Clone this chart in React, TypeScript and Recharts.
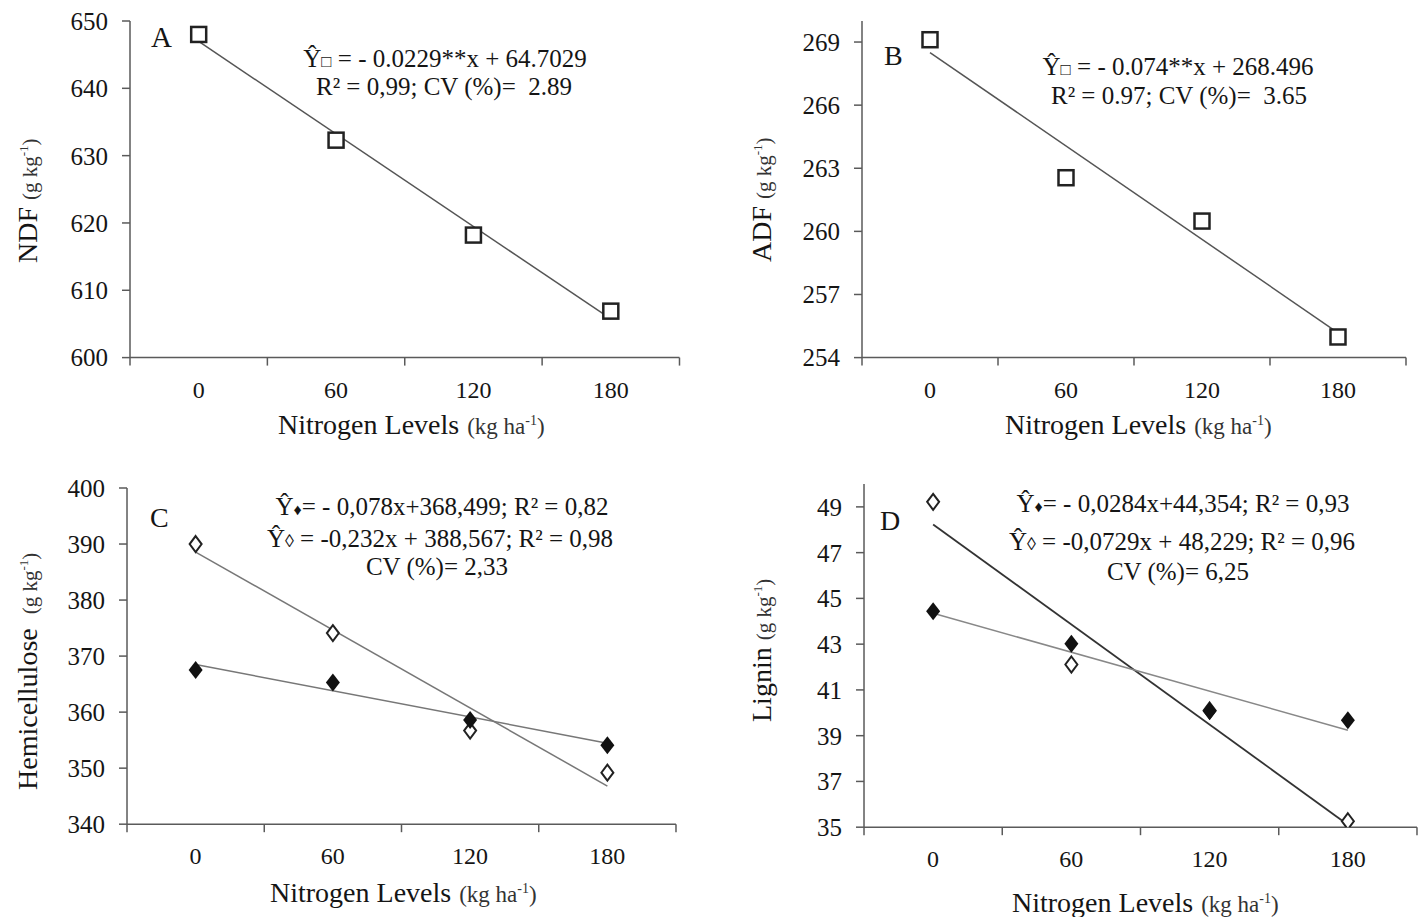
import React from 'react';
import { ScatterChart, Scatter, XAxis, YAxis } from 'recharts';

// ---------- data ----------
const nitrogenLevels = [0, 60, 120, 180];
const bandEdges = [-30, 30, 90, 150, 210];
const trendX = [0, 180];

const ndfValues = [648.0, 632.3, 618.2, 606.9];
const ndfTrend = [646.96, 605.74];
const ndfTicks = [600, 610, 620, 630, 640, 650];

const adfValues = [269.11, 262.55, 260.49, 254.98];
const adfTrend = [268.5, 255.18];
const adfTicks = [254, 257, 260, 263, 266, 269];

const hemiFilled = [367.5, 365.3, 358.6, 354.1];
const hemiOpen = [390.0, 374.1, 356.7, 349.2];
const hemiFilledTrend = [368.5, 354.46];
const hemiOpenTrend = [388.57, 346.81];
const hemiTicks = [340, 350, 360, 370, 380, 390, 400];

const ligninFilled = [44.44, 43.02, 40.08, 39.67];
const ligninOpen = [49.22, 42.11, 40.1, 35.26];
const ligninFilledTrend = [44.35, 39.24];
const ligninOpenTrend = [48.23, 35.11];
const ligninTicks = [35, 37, 39, 41, 43, 45, 47, 49];

// ---------- helpers ----------
const SERIF = '"Liberation Serif", "Times New Roman", serif';
const AXIS = '#5a5a5a';
const TXT = '#151515';

const pts = (ys: number[]) => nitrogenLevels.map((x, i) => ({ x, y: ys[i] }));
const trend = (ys: number[]) => trendX.map((x, i) => ({ x, y: ys[i] }));
const xTicks = [...bandEdges, ...nitrogenLevels].sort((a, b) => a - b);

const XTick = (props: any) => {
  const { x, y, payload } = props;
  const v = payload.value;
  if (nitrogenLevels.includes(v)) {
    return (
      <text x={x} y={y + 40} textAnchor="middle" fontFamily={SERIF} fontSize={24} fill={TXT}>
        {v}
      </text>
    );
  }
  return <line x1={x} x2={x} y1={y} y2={y + 8} stroke={AXIS} strokeWidth={1.5} />;
};

const Square = (p: any) => (
  <rect x={p.cx - 7.5} y={p.cy - 7.5} width={15} height={15} fill="#fff" stroke="#222" strokeWidth={2.5} />
);
const FilledDiamond = (p: any) => (
  <polygon
    points={`${p.cx},${p.cy - 9} ${p.cx + 7},${p.cy} ${p.cx},${p.cy + 9} ${p.cx - 7},${p.cy}`}
    fill="#111"
  />
);
const OpenDiamond = (p: any) => (
  <polygon
    points={`${p.cx},${p.cy - 8} ${p.cx + 6},${p.cy} ${p.cx},${p.cy + 8} ${p.cx - 6},${p.cy}`}
    fill="#fff"
    stroke="#222"
    strokeWidth={2}
  />
);
const NoShape = () => <g />;

type Plot = { x: number; y: number; w: number; h: number };

function Panel({ plot, domain, ticks, children }: { plot: Plot; domain: number[]; ticks: number[]; children: any }) {
  const ML = 80, MR = 12, MT = 12, MB = 50;
  const W = plot.w + ML + MR;
  const H = plot.h + MT + MB;
  return (
    <div style={{ position: 'absolute', left: plot.x - ML, top: plot.y - MT, width: W, height: H }}>
      <ScatterChart width={W} height={H} margin={{ top: MT, right: MR, bottom: 0, left: 0 }}>
        <XAxis
          type="number"
          dataKey="x"
          domain={[-30, 210]}
          ticks={xTicks}
          interval={0}
          tickLine={false}
          tickSize={0}
          tickMargin={0}
          height={MB}
          axisLine={{ stroke: AXIS, strokeWidth: 1.5 }}
          tick={<XTick />}
          allowDataOverflow
        />
        <YAxis
          type="number"
          dataKey="y"
          domain={domain}
          ticks={ticks}
          interval={0}
          width={ML}
          tickSize={8}
          tickMargin={14}
          tickLine={{ stroke: AXIS, strokeWidth: 1.5 }}
          axisLine={{ stroke: AXIS, strokeWidth: 1.5 }}
          tick={{ fontFamily: SERIF, fontSize: 25, fill: TXT }}
          allowDataOverflow
        />
        {children}
      </ScatterChart>
    </div>
  );
}

const YTitle = ({ x, y, main }: { x: number; y: number; main: string }) => (
  <text transform={`translate(${x},${y}) rotate(-90)`} fontFamily={SERIF} fill={TXT}>
    <tspan fontSize={28}>{main}</tspan>
    <tspan fontSize={21} dx={7} fill="#333">(g kg</tspan>
    <tspan fontSize={13} dy={-9} fill="#333">-1</tspan>
    <tspan fontSize={21} dy={9} fill="#333">)</tspan>
  </text>
);

const XTitle = ({ x, y }: { x: number; y: number }) => (
  <text x={x} y={y} fontFamily={SERIF} fill={TXT}>
    <tspan fontSize={28}>Nitrogen Levels</tspan>
    <tspan fontSize={23} dx={8} fill="#333">(kg ha</tspan>
    <tspan fontSize={14} dy={-9} fill="#333">-1</tspan>
    <tspan fontSize={23} dy={9} fill="#333">)</tspan>
  </text>
);

const Eq = ({ x, y, children }: { x: number; y: number; children: any }) => (
  <text x={x} y={y} textAnchor="middle" fontFamily={SERIF} fontSize={25} fill={TXT}>
    {children}
  </text>
);

const NB = '\u00a0';

export default function App() {
  return (
    <div style={{ position: 'absolute', left: 0, top: 0, width: 1427, height: 917, background: '#fff', overflow: 'hidden' }}>
      {/* A */}
      <Panel plot={{ x: 129.5, y: 20.7, w: 549.5, h: 336.6 }} domain={[600, 650]} ticks={ndfTicks}>
        <Scatter data={trend(ndfTrend)} line={{ stroke: '#555', strokeWidth: 1.5 }} shape={NoShape} isAnimationActive={false} />
        <Scatter data={pts(ndfValues)} shape={Square} isAnimationActive={false} />
      </Panel>
      {/* B */}
      <Panel plot={{ x: 862, y: 20.7, w: 544, h: 336.6 }} domain={[254, 270]} ticks={adfTicks}>
        <Scatter data={trend(adfTrend)} line={{ stroke: '#555', strokeWidth: 1.5 }} shape={NoShape} isAnimationActive={false} />
        <Scatter data={pts(adfValues)} shape={Square} isAnimationActive={false} />
      </Panel>
      {/* C */}
      <Panel plot={{ x: 126.5, y: 488.3, w: 549, h: 336.2 }} domain={[340, 400]} ticks={hemiTicks}>
        <Scatter data={trend(hemiOpenTrend)} line={{ stroke: '#777', strokeWidth: 1.5 }} shape={NoShape} isAnimationActive={false} />
        <Scatter data={trend(hemiFilledTrend)} line={{ stroke: '#777', strokeWidth: 1.5 }} shape={NoShape} isAnimationActive={false} />
        <Scatter data={pts(hemiOpen)} shape={OpenDiamond} isAnimationActive={false} />
        <Scatter data={pts(hemiFilled)} shape={FilledDiamond} isAnimationActive={false} />
      </Panel>
      {/* D */}
      <Panel plot={{ x: 864, y: 483.8, w: 553, h: 343.2 }} domain={[35, 50]} ticks={ligninTicks}>
        <Scatter data={trend(ligninOpenTrend)} line={{ stroke: '#333', strokeWidth: 1.8 }} shape={NoShape} isAnimationActive={false} />
        <Scatter data={trend(ligninFilledTrend)} line={{ stroke: '#888', strokeWidth: 1.5 }} shape={NoShape} isAnimationActive={false} />
        <Scatter data={pts(ligninOpen)} shape={OpenDiamond} isAnimationActive={false} />
        <Scatter data={pts(ligninFilled)} shape={FilledDiamond} isAnimationActive={false} />
      </Panel>

      <svg width={1427} height={917} style={{ position: 'absolute', left: 0, top: 0, pointerEvents: 'none' }}>
        {/* panel letters */}
        <text x={151} y={46.7} fontFamily={SERIF} fontSize={29} fill={TXT}>A</text>
        <text x={884} y={65} fontFamily={SERIF} fontSize={28} fill={TXT}>B</text>
        <text x={150} y={527} fontFamily={SERIF} fontSize={28} fill={TXT}>C</text>
        <text x={880} y={530} fontFamily={SERIF} fontSize={28} fill={TXT}>D</text>

        {/* y titles */}
        <YTitle x={37} y={263} main="NDF" />
        <YTitle x={771} y={262} main="ADF" />
        <YTitle x={37} y={790} main={'Hemicellulose' + NB} />
        <YTitle x={771} y={722} main="Lignin" />

        {/* x titles */}
        <XTitle x={278} y={434} />
        <XTitle x={1005} y={434} />
        <XTitle x={270} y={902} />
        <XTitle x={1012} y={912} />

        {/* equations A */}
        <Eq x={445} y={67}>
          Ŷ<tspan fontSize={17}>□</tspan> = - 0.0229**x + 64.7029
        </Eq>
        <Eq x={444} y={95}>{`R² = 0,99; CV (%)=${NB} 2.89`}</Eq>

        {/* equations B */}
        <Eq x={1178} y={75}>
          Ŷ<tspan fontSize={17}>□</tspan> = - 0.074**x + 268.496
        </Eq>
        <Eq x={1179} y={104}>{`R² = 0.97; CV (%)=${NB} 3.65`}</Eq>

        {/* equations C */}
        <Eq x={442} y={515}>
          Ŷ<tspan fontSize={16}>♦</tspan>= - 0,078x+368,499; R² = 0,82
        </Eq>
        <Eq x={440} y={547}>
          Ŷ<tspan fontSize={18}>◊</tspan> = -0,232x + 388,567; R² = 0,98
        </Eq>
        <Eq x={437} y={575}>CV (%)= 2,33</Eq>

        {/* equations D */}
        <Eq x={1183} y={512}>
          Ŷ<tspan fontSize={16}>♦</tspan>= - 0,0284x+44,354; R² = 0,93
        </Eq>
        <Eq x={1182} y={550}>
          Ŷ<tspan fontSize={18}>◊</tspan> = -0,0729x + 48,229; R² = 0,96
        </Eq>
        <Eq x={1178} y={580}>CV (%)= 6,25</Eq>
      </svg>
    </div>
  );
}
